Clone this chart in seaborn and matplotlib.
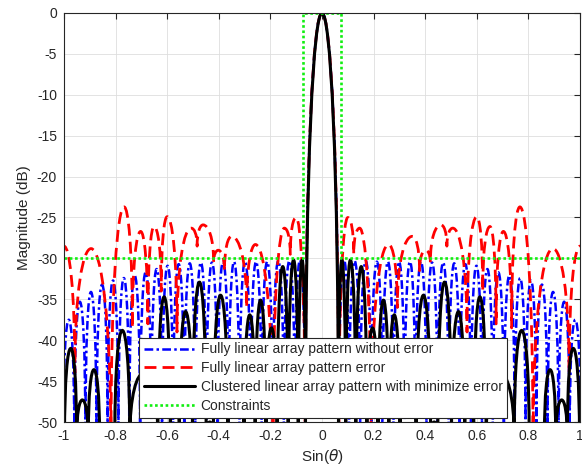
import matplotlib
matplotlib.use('Agg')
import matplotlib.pyplot as plt
from matplotlib.path import Path
from matplotlib.patches import PathPatch
from matplotlib.lines import Line2D
import seaborn as sns

# ---- data (right half, sin(theta) >= 0; pattern is symmetric) ----
# lobe maxima (x, dB) and the nulls / dips that follow each of them
blue_peak_x = [0.0, 0.0855, 0.1265, 0.1695, 0.2125, 0.2555, 0.2985, 0.341, 0.3835, 0.4265,
               0.4695, 0.5125, 0.5555, 0.5985, 0.641, 0.6835, 0.726, 0.768, 0.81, 0.8525,
               0.8955, 0.9385, 0.9815]
blue_peak_db = [0.0, -30.2, -30.3, -30.3, -30.4, -30.4, -30.4, -30.4, -30.4, -30.5,
                -30.5, -30.6, -30.7, -30.9, -31.3, -31.7, -32.1, -32.4, -32.7, -33.2,
                -34.1, -35.3, -37.5]
blue_null_x = [0.065, 0.105, 0.148, 0.191, 0.234, 0.277, 0.32, 0.362, 0.405, 0.448,
               0.491, 0.534, 0.577, 0.62, 0.662, 0.705, 0.747, 0.789, 0.831, 0.874,
               0.917, 0.96, 1.003]

red_peak_x = [0.0, 0.100, 0.146, 0.258, 0.350, 0.402, 0.461, 0.507, 0.600, 0.651,
              0.703, 0.767, 0.895, 1.0]
red_peak_db = [0.0, -25.0, -26.3, -28.3, -27.3, -29.0, -25.9, -26.3, -24.9, -26.1,
               -26.7, -23.7, -28.8, -28.5]
red_null_x = [0.065, 0.123, 0.190, 0.292, 0.378, 0.420, 0.484, 0.562, 0.623, 0.675,
              0.735, 0.818, 0.958, 1.04]
red_null_db = [-52.0, -29.5, -52.0, -36.0, -31.5, -30.5, -28.5, -39.0, -34.0, -38.0,
               -38.5, -53.0, -44.0, -40.0]

black_peak_x = [0.0, 0.077, 0.110, 0.152, 0.196, 0.238, 0.280, 0.333, 0.393, 0.435,
                0.475, 0.529, 0.571, 0.612, 0.690, 0.774, 0.835, 0.884, 0.929, 0.974]
black_peak_db = [0.0, -30.2, -30.2, -31.0, -38.5, -35.1, -36.9, -43.0, -34.5, -50.0,
                 -32.9, -36.5, -45.0, -34.7, -44.0, -38.8, -51.0, -43.6, -47.3, -41.0]
black_null_x = [0.064, 0.092, 0.131, 0.174, 0.217, 0.259, 0.302, 0.365, 0.421, 0.449,
                0.502, 0.553, 0.588, 0.636, 0.745, 0.803, 0.862, 0.906, 0.951, 0.998]

NULL_DB = -52.0  # deep nulls, below the visible range

mask_x = [-1.0, -0.073, -0.073, 0.073, 0.073, 1.0]
mask_db = [-30.0, -30.0, 0.0, 0.0, -30.0, -30.0]

x_ticks = [-1, -0.8, -0.6, -0.4, -0.2, 0, 0.2, 0.4, 0.6, 0.8, 1]
x_tick_labels = ['-1', '-0.8', '-0.6', '-0.4', '-0.2', '0', '0.2', '0.4', '0.6', '0.8', '1']
y_ticks = [0, -5, -10, -15, -20, -25, -30, -35, -40, -45, -50]
y_tick_labels = ['0', '-5', '-10', '-15', '-20', '-25', '-30', '-35', '-40', '-45', '-50']

labels = ['Fully linear array pattern without error',
          'Fully linear array pattern error',
          'Clustered linear array pattern with minimize error',
          'Constraints']


def build_curve(peak_x, peak_db, null_x, null_db):
    """Interleave maxima and nulls of the right half, then mirror to the left."""
    rx, ry = [], []
    for px, py, nx, ny in zip(peak_x, peak_db, null_x, null_db):
        rx += [px, nx]
        ry += [py, ny]
    xs = [-v for v in rx[:0:-1]] + rx
    ys = ry[:0:-1] + ry
    return xs, ys


def lobe_path(xs, ys):
    """Smooth arches between alternating extrema (flat at maxima, steep at nulls)."""
    verts = [(xs[0], ys[0])]
    codes = [Path.MOVETO]
    for x0, y0, x1, y1 in zip(xs[:-1], ys[:-1], xs[1:], ys[1:]):
        if y1 >= y0:
            c1 = (x0, y0 + 2 / 3 * (y1 - y0))
            c2 = (x0 + 0.5 * (x1 - x0), y1)
        else:
            c1 = (x0 + 0.5 * (x1 - x0), y0)
            c2 = (x1, y1 + 2 / 3 * (y0 - y1))
        verts += [c1, c2, (x1, y1)]
        codes += [Path.CURVE4] * 3
    return Path(verts, codes)


sns.set_theme(style='whitegrid')
plt.rcParams['font.family'] = ['Liberation Sans', 'DejaVu Sans']
plt.rcParams['axes.unicode_minus'] = False

fig = plt.figure(figsize=(5.82, 4.75), dpi=100)
ax = fig.add_axes([64 / 582, 53 / 475, 516 / 582, 409 / 475])
ax.set_facecolor('white')

BLUE, RED, BLACK, GREEN = '#0000ff', '#ff0000', '#000000', '#11ee11'
blue_style = dict(color=BLUE, lw=1.8, dashes=(3.5, 1.3, 1.0, 1.3))
red_style = dict(color=RED, lw=2.0, dashes=(4.3, 2.2))
black_style = dict(color=BLACK, lw=2.2)
green_style = dict(color=GREEN, lw=1.9, dashes=(1.0, 1.0))

curves = [
    (build_curve(blue_peak_x, blue_peak_db, blue_null_x, [NULL_DB] * len(blue_null_x)), blue_style, 2.0),
    (build_curve(red_peak_x, red_peak_db, red_null_x, red_null_db), red_style, 2.1),
    (build_curve(black_peak_x, black_peak_db, black_null_x, [NULL_DB] * len(black_null_x)), black_style, 2.2),
]
for (xs, ys), st, z in curves:
    ls = (0, st['dashes']) if 'dashes' in st else '-'
    patch = PathPatch(lobe_path(xs, ys), fill=False, edgecolor=st['color'],
                      lw=st['lw'], linestyle=ls, zorder=z, capstyle='butt', joinstyle='round')
    ax.add_patch(patch)

sns.lineplot(x=mask_x, y=mask_db, sort=False, estimator=None, ax=ax,
             color=GREEN, lw=green_style['lw'], dashes=False, zorder=2.3)
ax.lines[-1].set_dashes(green_style['dashes'])
ax.lines[-1].set_dash_capstyle('butt')

ax.set_xlim(-1, 1)
ax.set_ylim(-50, 0)
ax.set_xticks(x_ticks)
ax.set_xticklabels(x_tick_labels)
ax.set_yticks(y_ticks)
ax.set_yticklabels(y_tick_labels)
ax.grid(True, color='#dedede', lw=0.6)
ax.set_axisbelow(True)
for sp in ax.spines.values():
    sp.set_visible(True)
    sp.set_color('#262626')
    sp.set_linewidth(0.8)
ax.tick_params(direction='in', top=True, right=True, length=4, width=0.8,
               color='#262626', labelsize=10, labelcolor='#262626', pad=5)
ax.set_xlabel(r'Sin($\theta$)', fontsize=11, color='#262626', labelpad=3)
ax.set_ylabel('Magnitude (dB)', fontsize=11, color='#262626', labelpad=4)

handles = []
for st in [blue_style, red_style, black_style, green_style]:
    h = Line2D([], [], color=st['color'], lw=st['lw'])
    if 'dashes' in st:
        h.set_dashes(st['dashes'])
    handles.append(h)
leg = ax.legend(handles, labels, loc='lower left', bbox_to_anchor=(0.145, 0.01),
                fontsize=10, frameon=True, fancybox=False, framealpha=1,
                edgecolor='#262626', handlelength=3.7, handletextpad=0.4,
                labelspacing=0.35, borderpad=0.35, borderaxespad=0)
leg.get_frame().set_linewidth(0.8)

fig.savefig('out.png', dpi=100)
